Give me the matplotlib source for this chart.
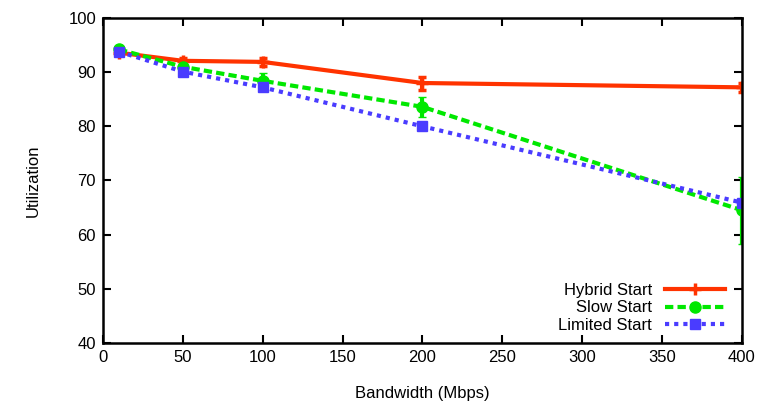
import matplotlib
matplotlib.use("Agg")
import matplotlib.pyplot as plt

plt.rcParams['font.family'] = ['Liberation Sans', 'DejaVu Sans']

# bandwidth values (Mbps)
bw = [10, 50, 100, 200, 400]

# utilization per start algorithm, with error bars
hybrid = [93.6, 92.1, 91.9, 88.0, 87.2]
hybrid_err = [0.5, 0.6, 0.7, 1.2, 0.8]
slow = [94.2, 91.0, 88.4, 83.6, 64.5]
slow_err = [0.6, 0.8, 1.5, 1.8, 6.2]
limited = [93.8, 90.1, 87.2, 80.0, 65.9]
limited_err = [0.4, 0.7, 0.6, 0.4, 0.6]
names = ['Hybrid Start', 'Slow Start', 'Limited Start']

fig = plt.figure(figsize=(7.57, 4.01), dpi=100)
ax = fig.add_axes([0.136, 0.145, 0.844, 0.81])

h1 = ax.errorbar(bw, hybrid, yerr=hybrid_err, color='#ff3300', ls='-', lw=3,
                 marker='+', ms=9, mew=2.5, capsize=3)
h2 = ax.errorbar(bw, slow, yerr=slow_err, color='#00e800', ls=(0, (2, 1)), lw=3,
                 marker='o', ms=8, capsize=3)
h3 = ax.errorbar(bw, limited, yerr=limited_err, color='#4a3cff', ls=(0, (1, 1.2)), lw=3,
                 marker='s', ms=7, capsize=3)

ax.set_xlim(0, 400)
ax.set_ylim(40, 100)
ax.set_xticks(range(0, 401, 50))
ax.set_yticks(range(40, 101, 10))
ax.tick_params(direction='in', top=True, right=True, length=6, width=1.5,
               labelsize=12, pad=5)
for s in ax.spines.values():
    s.set_linewidth(1.8)

ax.set_xlabel('Bandwidth (Mbps)', fontsize=12, labelpad=15)
ax.set_ylabel('Utilization', fontsize=12, labelpad=20)

# legend shows only the lines, not the error bars
ax.legend([h1[0], h2[0], h3[0]], names, loc='lower right',
          bbox_to_anchor=(0.99, 0.0), frameon=False,
          markerfirst=False, fontsize=12, handlelength=3.6, labelspacing=0.15,
          borderaxespad=0.3, handletextpad=0.8, borderpad=0.3)

fig.savefig('out.png', dpi=100)
